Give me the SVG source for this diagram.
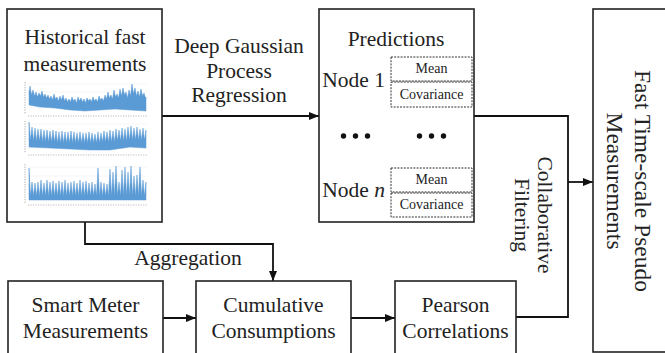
<svg xmlns="http://www.w3.org/2000/svg" width="665" height="353" viewBox="0 0 665 353">
<defs>
<marker id="arr" viewBox="0 0 10 8" refX="10" refY="4" markerWidth="10" markerHeight="8" markerUnits="userSpaceOnUse" orient="auto">
<path d="M0,0 L10,4 L0,8 Z" fill="#111"/>
</marker>
</defs>
<style>
.box{fill:#fff;stroke:#222;stroke-width:1.6}
.dbox{fill:#fff;stroke:#333;stroke-width:1;stroke-dasharray:2 1.2}
.t{font-family:"Liberation Serif","Times New Roman",serif;font-size:21.5px;fill:#222;text-anchor:middle}
.s{font-family:"Liberation Serif","Times New Roman",serif;font-size:14px;fill:#222;text-anchor:middle}
.big{font-family:"Liberation Serif","Times New Roman",serif;font-size:23.5px;fill:#222;text-anchor:middle}
.c{fill:none;stroke:#111;stroke-width:1.8}
.grid{stroke:#eee;stroke-width:0.6}
.tick{stroke:#bbb;stroke-width:1.2;stroke-dasharray:1.2 1.3}
.plot{fill:#5b9bd5;stroke:#5b9bd5;stroke-width:0.5;stroke-linejoin:round}
</style>

<g id="connectors">
<line class="c" x1="162" y1="116" x2="319" y2="116" marker-end="url(#arr)"/>
<polyline class="c" points="474,116 568,116 568,317 516,317"/>
<line class="c" x1="568" y1="182" x2="593" y2="182" marker-end="url(#arr)"/>
<polyline class="c" points="85,222 85,244 273,244 273,281" marker-end="url(#arr)"/>
<line class="c" x1="163" y1="318" x2="196" y2="318" marker-end="url(#arr)"/>
<line class="c" x1="351" y1="318" x2="395" y2="318" marker-end="url(#arr)"/>
<text class="t" x="239" y="53">Deep Gaussian</text>
<text class="t" x="239" y="78">Process</text>
<text class="t" x="239" y="102">Regression</text>
<text class="t" x="188" y="265">Aggregation</text>
<text class="t" transform="translate(538,215) rotate(90)">Collaborative</text>
<text class="t" transform="translate(515,215) rotate(90)">Filtering</text>
</g>

<g id="historical">
<rect class="box" x="7" y="9" width="155" height="213"/>
<text class="t" x="85" y="44">Historical fast</text>
<text class="t" x="85" y="71">measurements</text>
<g id="chart1">
<line class="grid" x1="27" y1="84" x2="147" y2="84"/>
<line class="grid" x1="27" y1="92" x2="147" y2="92"/>
<line class="grid" x1="27" y1="100" x2="147" y2="100"/>
<line class="grid" x1="27" y1="108" x2="147" y2="108"/>
<line class="tick" x1="25" y1="82" x2="25" y2="114"/>
<line class="tick" x1="28" y1="116" x2="147" y2="116"/>
<path class="plot" d="M29,105 L29,92 L30,86 L31.5,95 L33,90 L34.5,96 L36,92 L37.5,97 L39,93 L40.5,96 L42,91 L43.5,97 L45,94 L46.5,98 L48,95 L49.5,99 L51,96 L52.5,100 L54,94 L55.5,99 L57,97 L58.5,101 L60,96 L61.5,100 L63,95 L64.5,101 L66,98 L67.5,102 L69,99 L70.5,102 L72,97 L73.5,101 L75,99 L76.5,103 L78,97 L79.5,101 L81,98 L82.5,102 L84,99 L85.5,103 L87,98 L88.5,101 L90,99 L91.5,102 L93,97 L94.5,101 L96,99 L97.5,102 L99,96 L100.5,100 L102,98 L103.5,101 L105,95 L106.5,99 L108,92 L109.5,98 L111,95 L112.5,99 L114,90 L115.5,97 L117,94 L118.5,98 L120,89 L121.5,96 L123,88 L124.5,95 L126,92 L127.5,98 L129,90 L130.5,96 L132,84 L133.5,94 L135,88 L136.5,96 L138,91 L139.5,97 L141,89 L142.5,96 L144,93 L145.5,98 L146,97 L146,111 L130,110 L115,109 L100,110 L85,111 L70,110 L55,108 L40,107 Z"/>
</g>
<g id="chart2">
<line class="grid" x1="27" y1="124" x2="147" y2="124"/>
<line class="grid" x1="27" y1="132" x2="147" y2="132"/>
<line class="grid" x1="27" y1="140" x2="147" y2="140"/>
<line class="grid" x1="27" y1="148" x2="147" y2="148"/>
<line class="tick" x1="25" y1="121" x2="25" y2="153"/>
<line class="tick" x1="28" y1="155" x2="147" y2="155"/>
<path class="plot" d="M29,147 L29,122 L30.5,140 L32,127 L33.5,141 L35,128 L36.5,141 L38,129 L39.5,141 L41,129 L42.5,142 L44,130 L45.5,142 L47,130 L48.5,142 L50,131 L51.5,142 L53,130 L54.5,142 L56,131 L57.5,143 L59,132 L60.5,143 L62,131 L63.5,143 L65,132 L66.5,143 L68,132 L69.5,143 L71,131 L72.5,143 L74,132 L75.5,143 L77,133 L78.5,143 L80,132 L81.5,143 L83,133 L84.5,143 L86,133 L87.5,143 L89,132 L90.5,143 L92,133 L93.5,143 L95,134 L96.5,143 L98,132 L99.5,143 L101,133 L102.5,142 L104,131 L105.5,142 L107,132 L108.5,142 L110,130 L111.5,142 L113,131 L114.5,142 L116,129 L117.5,141 L119,130 L120.5,141 L122,128 L123.5,141 L125,129 L126.5,141 L128,127 L129.5,140 L131,126 L132.5,140 L134,128 L135.5,140 L137,127 L138.5,140 L140,129 L141.5,140 L143,128 L144.5,140 L146,130 L146,148 L130,147 L110,150 L90,150 L70,149 L50,148 Z"/>
</g>
<g id="chart3">
<line class="grid" x1="27" y1="167" x2="147" y2="167"/>
<line class="grid" x1="27" y1="176" x2="147" y2="176"/>
<line class="grid" x1="27" y1="185" x2="147" y2="185"/>
<line class="grid" x1="27" y1="194" x2="147" y2="194"/>
<line class="tick" x1="25" y1="164" x2="25" y2="203"/>
<line class="tick" x1="28" y1="205" x2="147" y2="205"/>
<path class="plot" d="M29,200 L29,168 L30.5,196 L32,182 L33.5,196 L35,183 L36.5,196 L38,182 L39.5,196 L41,180 L42.5,196 L44,183 L45.5,196 L47,180 L48.5,196 L50,182 L51.5,196 L53,181 L54.5,196 L56,183 L57.5,196 L59,181 L60.5,196 L62,182 L63.5,196 L65,180 L66.5,196 L68,183 L69.5,196 L71,182 L72.5,196 L74,181 L75.5,196 L77,183 L78.5,196 L80,180 L81.5,196 L83,182 L84.5,196 L86,181 L87.5,196 L89,183 L90.5,196 L92,182 L93.5,196 L95,184 L96.5,196 L98,168 L99.5,196 L101,182 L102.5,196 L104,183 L105.5,196 L107,184 L108.5,196 L110,169 L111.5,196 L113,172 L114.5,196 L116,166 L117.5,196 L119,182 L120.5,196 L122,170 L123.5,196 L125,167 L126.5,196 L128,172 L129.5,196 L131,166 L132.5,196 L134,176 L135.5,196 L137,175 L138.5,196 L140,167 L141.5,196 L143,180 L144.5,196 L146,182 L146,200 Z"/>
</g>
</g>

<g id="predictions">
<rect class="box" x="319" y="9" width="155" height="213"/>
<text class="t" x="396" y="46">Predictions</text>
<text class="t" x="385" y="87" style="text-anchor:end">Node 1</text>
<rect class="dbox" x="391" y="57" width="81" height="24"/>
<text class="s" x="431.5" y="73">Mean</text>
<rect class="dbox" x="391" y="82" width="81" height="25"/>
<text class="s" x="431.5" y="99">Covariance</text>
<circle cx="343.5" cy="136" r="2.7" fill="#111"/>
<circle cx="355.5" cy="136" r="2.7" fill="#111"/>
<circle cx="367.5" cy="136" r="2.7" fill="#111"/>
<circle cx="419.5" cy="136" r="2.7" fill="#111"/>
<circle cx="431.5" cy="136" r="2.7" fill="#111"/>
<circle cx="443.5" cy="136" r="2.7" fill="#111"/>
<text class="t" x="385" y="197" style="text-anchor:end">Node <tspan font-style="italic">n</tspan></text>
<rect class="dbox" x="391" y="168" width="81" height="24"/>
<text class="s" x="431.5" y="184">Mean</text>
<rect class="dbox" x="391" y="193" width="81" height="24"/>
<text class="s" x="431.5" y="209">Covariance</text>
</g>

<g id="fast">
<rect class="box" x="593" y="9" width="80" height="343"/>
<text class="big" transform="translate(635,181) rotate(90)">Fast Time-scale Pseudo</text>
<text class="big" transform="translate(607,181) rotate(90)">Measurements</text>
</g>

<g id="smartmeter">
<rect class="box" x="8" y="281" width="155" height="80"/>
<text class="t" x="85.5" y="312">Smart Meter</text>
<text class="t" x="85.5" y="338">Measurements</text>
</g>

<g id="cumulative">
<rect class="box" x="196" y="281" width="155" height="80"/>
<text class="t" x="273.5" y="312">Cumulative</text>
<text class="t" x="273.5" y="338">Consumptions</text>
</g>

<g id="pearson">
<rect class="box" x="395" y="281" width="121" height="80"/>
<text class="t" x="455.5" y="312">Pearson</text>
<text class="t" x="455.5" y="338">Correlations</text>
</g>
</svg>
